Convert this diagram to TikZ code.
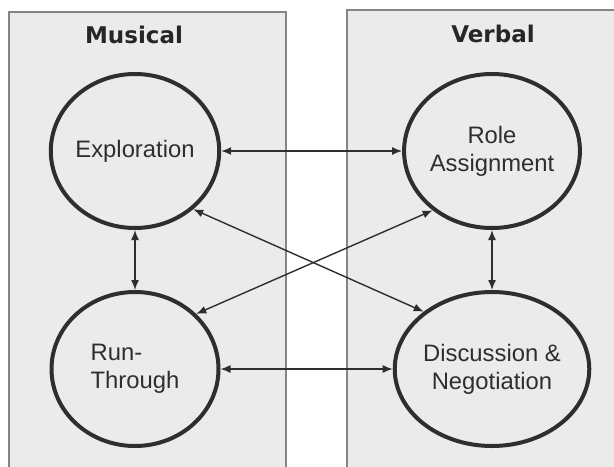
\documentclass[tikz,border=0pt]{standalone}
\usepackage{fontspec}
\setmainfont{Liberation Sans}
\newfontfamily\titlefont{DejaVu Sans}
\usetikzlibrary{positioning,
        shapes.geometric,
        arrows.meta}
\definecolor{panelgray}{HTML}{EBEBEB}
\definecolor{edgegray}{HTML}{858585}
\definecolor{inkgray}{HTML}{2E2E2E}

\begin{document}
\begin{tikzpicture}[x=0.5pt,y=-0.5pt,
        panel/.style={fill=panelgray,draw=edgegray,line width=0.7pt},
        phase/.style={ellipse,draw=inkgray,line width=2pt,minimum width=83.5pt,minimum height=77pt,inner sep=0pt,
            text=inkgray,font=\fontsize{11.9}{14}\selectfont,align=center},
        title/.style={font=\titlefont\bfseries\fontsize{11.5}{14}\selectfont,text=black!85},
        link/.style={{Latex[length=5pt,width=4pt]}-{Latex[length=5pt,width=4pt]},draw=inkgray,line width=0.7pt}]
            \clip (0,0) rectangle (614,466);
            \fill [white] (0,0) rectangle (614,466);
            \draw [panel] (9,12) rectangle (286,480);
            \draw [panel] (347,10) rectangle (630,480);

            \node [title] (musical) at (134,35) {Musical};
            \node [title] (verbal) at (493,34) {Verbal};

            \node [phase] (Exp) at (135,151) {Exploration};
            \node [phase] (Role) at (492,151) {Role\\Assignment};
            \node [phase,align=left] (Run) at (135,369) {Run-\\Through};
            \node [phase] (Disc) at (492,369) {Discussion \&\\Negotiation};

            \draw [link] (Exp) -- (Role);
            \draw [link] (Run) -- (Disc);
            \draw [link] (Exp) -- (Run);
            \draw [link] (Role) -- (Disc);
            \draw [link] (Exp.-45) -- (Disc.140);
            \draw [link] (Role.-135) -- (Run.42);
        \end{tikzpicture}
\end{document}
